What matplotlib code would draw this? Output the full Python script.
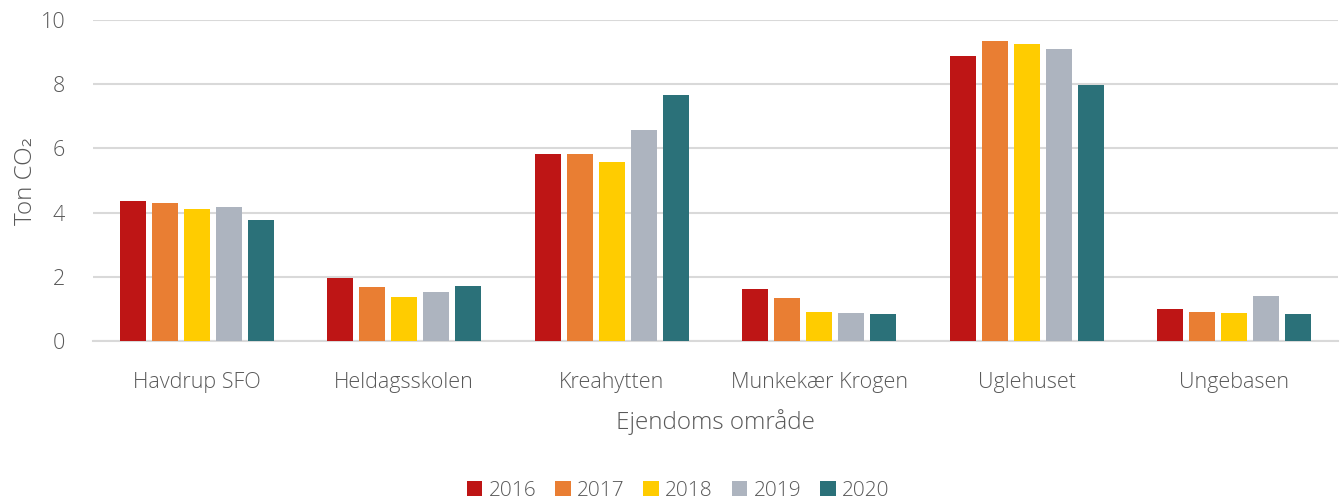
import numpy as np
import matplotlib.pyplot as plt

plt.rcParams['font.family'] = ['Open Sans', 'DejaVu Sans']
plt.rcParams['font.weight'] = 'light'
plt.rcParams['axes.labelweight'] = 'light'

categories = ["Havdrup SFO", "Heldagsskolen", "Kreahytten", "Munkekær Krogen", "Uglehuset", "Ungebasen"]
years = ["2016", "2017", "2018", "2019", "2020"]
v2016 = [4.35, 1.95, 5.82, 1.61, 8.89, 1.01]
v2017 = [4.30, 1.68, 5.82, 1.34, 9.35, 0.90]
v2018 = [4.11, 1.37, 5.58, 0.91, 9.25, 0.86]
v2019 = [4.17, 1.53, 6.56, 0.87, 9.10, 1.40]
v2020 = [3.77, 1.70, 7.65, 0.84, 7.97, 0.83]
colors = ["#BE1515", "#E97E33", "#FFCC00", "#ADB4BF", "#2B7179"]

series = [v2016, v2017, v2018, v2019, v2020]
txt = "#595959"

fig = plt.figure(figsize=(13.4, 5.04), dpi=100)
ax = fig.add_axes([0.0694, 0.3234, 0.9291, 0.6369])

x = np.arange(len(categories))
step = 0.154
w = 0.125
for i, (vals, yr, c) in enumerate(zip(series, years, colors)):
    ax.bar(x + (i - 2) * step, vals, width=w, color=c, label=yr, zorder=3)

ax.set_xlim(-0.5, len(categories) - 0.5)
ax.set_ylim(0, 10)
ax.set_yticks([0, 2, 4, 6, 8, 10])
ax.set_xticks(x)
ax.set_xticklabels(categories)
ax.tick_params(axis='both', length=0, labelsize=15.5, colors=txt)
ax.tick_params(axis='x', pad=22)
ax.tick_params(axis='y', pad=20)
ax.grid(axis='y', color="#d9d9d9", linewidth=1.5, zorder=0)
for s in ["top", "right", "left"]:
    ax.spines[s].set_visible(False)
ax.spines["bottom"].set_color("#d9d9d9")
ax.spines["bottom"].set_linewidth(1.5)

ax.set_ylabel("Ton CO₂", fontsize=17.5, color=txt, labelpad=2)
ax.set_xlabel("Ejendoms område", fontsize=17.5, color=txt, labelpad=12)

fig.legend(loc='center', bbox_to_anchor=(0.506, 0.026), ncol=5, frameon=False,
           fontsize=15, labelcolor=txt, handlelength=0.75, handleheight=0.75,
           handletextpad=0.3, columnspacing=0.9)

fig.savefig("out.png", dpi=100)
